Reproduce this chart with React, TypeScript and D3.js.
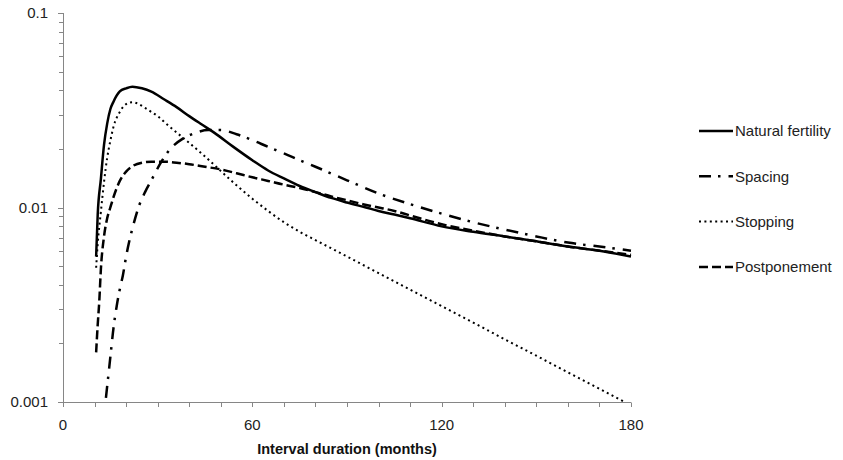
import { useEffect, useRef } from 'react'
import * as d3 from 'd3'

// months (x) and hazard values (y, log scale)
const naturalMonths = [10.5, 11, 12, 13, 14, 15, 16, 18, 20, 22, 25, 28, 32, 36, 40, 44, 48, 54, 60, 65, 70, 75, 80, 85, 90, 96, 100, 105, 110, 120, 130, 140, 150, 160, 170, 180]
const naturalValues = [0.0056, 0.0092, 0.014, 0.021, 0.027, 0.032, 0.035, 0.0395, 0.041, 0.0418, 0.041, 0.0394, 0.036, 0.0328, 0.0295, 0.0267, 0.0242, 0.0205, 0.0175, 0.0155, 0.0141, 0.0129, 0.012, 0.0112, 0.0106, 0.0100, 0.0096, 0.0092, 0.0088, 0.0080, 0.0075, 0.0071, 0.0067, 0.0063, 0.0060, 0.0056]

const spacingMonths = [13.6, 15, 16, 17, 18, 19, 20, 21, 22, 24, 26, 28, 31, 34, 38, 42, 46, 50, 55, 60, 65, 70, 75, 80, 90, 100, 110, 120, 130, 140, 150, 160, 170, 180]
const spacingValues = [0.00105, 0.0017, 0.0024, 0.0031, 0.0038, 0.0045, 0.0056, 0.0067, 0.0078, 0.0101, 0.012, 0.0138, 0.017, 0.02, 0.0226, 0.0242, 0.025, 0.025, 0.0238, 0.0222, 0.0205, 0.019, 0.0175, 0.0162, 0.0138, 0.0118, 0.0104, 0.0093, 0.0084, 0.0077, 0.0071, 0.0066, 0.0063, 0.006]

const stoppingMonths = [10.5, 11, 12, 13, 14, 15, 16, 18, 20, 22, 24, 26, 28, 30, 33, 36, 40, 45, 50, 55, 60, 65, 70, 75, 80, 90, 100, 110, 120, 130, 140, 150, 160, 170, 178]
const stoppingValues = [0.0049, 0.0065, 0.0095, 0.0135, 0.018, 0.022, 0.026, 0.031, 0.034, 0.0348, 0.034, 0.0325, 0.031, 0.0295, 0.0267, 0.0243, 0.0215, 0.0183, 0.0154, 0.013, 0.0111, 0.0096, 0.0084, 0.0075, 0.0068, 0.0056, 0.0046, 0.00378, 0.00311, 0.00256, 0.0021, 0.00173, 0.00142, 0.00117, 0.001]

const postponementMonths = [10.5, 11, 11.5, 12, 13, 14, 15, 16, 18, 20, 22, 25, 28, 32, 36, 40, 45, 50, 55, 60, 65, 70, 75, 80, 85, 90, 95, 100, 105, 110, 120, 130, 140, 150, 160, 170, 180]
const postponementValues = [0.0018, 0.0025, 0.0033, 0.0048, 0.0071, 0.0088, 0.01, 0.0113, 0.0137, 0.0153, 0.0163, 0.017, 0.0172, 0.0172, 0.017, 0.0167, 0.0162, 0.0157, 0.015, 0.0143, 0.0137, 0.0131, 0.0126, 0.012, 0.0114, 0.0109, 0.0104, 0.01, 0.0096, 0.0091, 0.0082, 0.0076, 0.0071, 0.0067, 0.0063, 0.006, 0.0057]

const seriesNames = ['Natural fertility', 'Spacing', 'Stopping', 'Postponement']
const xTicks = [0, 60, 120, 180]
const yTicks = [0.001, 0.01, 0.1]

const FONT = '"Liberation Sans", Arial, sans-serif'

const App = () => {
  const svgRef = useRef(null)

  useEffect(() => {
    const svg = d3.select(svgRef.current)
    svg.selectAll('*').remove()

    const x = d3.scaleLinear().domain([0, 180]).range([63, 631])
    const y = d3.scaleLog().domain([0.001, 0.1]).range([402, 13])

    const axisColor = '#868686'

    // y axis
    const yAxis = svg.append('g')
    yAxis.append('line')
      .attr('x1', 63.5).attr('x2', 63.5)
      .attr('y1', y(0.1)).attr('y2', y(0.001))
      .attr('stroke', axisColor)
    const minor = []
    ;[0.001, 0.01].forEach((dec) => {
      for (let k = 2; k <= 9; k++) minor.push(dec * k)
    })
    yAxis.selectAll('.minor')
      .data(minor)
      .enter()
      .append('line')
      .attr('x1', 59).attr('x2', 63.5)
      .attr('y1', (d) => Math.round(y(d)) + 0.5)
      .attr('y2', (d) => Math.round(y(d)) + 0.5)
      .attr('stroke', axisColor)
    yAxis.selectAll('.major')
      .data(yTicks)
      .enter()
      .append('line')
      .attr('x1', 58).attr('x2', 63.5)
      .attr('y1', (d) => Math.round(y(d)) + 0.5)
      .attr('y2', (d) => Math.round(y(d)) + 0.5)
      .attr('stroke', axisColor)
    yAxis.selectAll('text')
      .data(yTicks)
      .enter()
      .append('text')
      .attr('x', 48)
      .attr('y', (d) => y(d))
      .attr('dy', '0.35em')
      .attr('text-anchor', 'end')
      .style('font-family', FONT)
      .style('font-size', '15px')
      .attr('fill', '#222')
      .text((d) => String(d))

    // x axis
    const xAxis = svg.append('g')
    xAxis.append('line')
      .attr('x1', 63).attr('x2', 631)
      .attr('y1', 402.5).attr('y2', 402.5)
      .attr('stroke', axisColor)
    xAxis.selectAll('.tick')
      .data(d3.range(0, 181, 10))
      .enter()
      .append('line')
      .attr('x1', (d) => Math.round(x(d)) + 0.5)
      .attr('x2', (d) => Math.round(x(d)) + 0.5)
      .attr('y1', 402.5).attr('y2', 407)
      .attr('stroke', axisColor)
    xAxis.selectAll('text')
      .data(xTicks)
      .enter()
      .append('text')
      .attr('x', (d) => x(d))
      .attr('y', 425)
      .attr('dy', '0.35em')
      .attr('text-anchor', 'middle')
      .style('font-family', FONT)
      .style('font-size', '15px')
      .attr('fill', '#222')
      .text((d) => String(d))

    svg.append('text')
      .attr('x', (x(0) + x(180)) / 2)
      .attr('y', 449)
      .attr('dy', '0.35em')
      .attr('text-anchor', 'middle')
      .style('font-family', FONT)
      .style('font-size', '14.5px')
      .style('font-weight', 'bold')
      .attr('fill', '#111')
      .text('Interval duration (months)')

    const series = [
      { months: naturalMonths, values: naturalValues, width: 2.5, dash: null },
      { months: spacingMonths, values: spacingValues, width: 2.5, dash: '12 7 2.5 8' },
      { months: stoppingMonths, values: stoppingValues, width: 2, dash: '2 3.4' },
      { months: postponementMonths, values: postponementValues, width: 2.5, dash: '9 4' },
    ]

    const line = d3.line()
      .x((d) => x(d[0]))
      .y((d) => y(d[1]))
      .curve(d3.curveMonotoneX)

    series.forEach((s) => {
      const pts = s.months.map((m, i) => [m, s.values[i]])
      svg.append('path')
        .attr('d', line(pts))
        .attr('fill', 'none')
        .attr('stroke', '#000')
        .attr('stroke-width', s.width)
        .attr('stroke-dasharray', s.dash)
    })

    // legend
    const legend = svg.append('g')
    seriesNames.forEach((name, i) => {
      const ly = 131 + i * 45.3
      legend.append('line')
        .attr('x1', 699).attr('x2', 733)
        .attr('y1', ly).attr('y2', ly)
        .attr('stroke', '#000')
        .attr('stroke-width', series[i].width)
        .attr('stroke-dasharray', series[i].dash)
      legend.append('text')
        .attr('x', 735)
        .attr('y', ly)
        .attr('dy', '0.35em')
        .style('font-family', FONT)
        .style('font-size', '15px')
        .attr('fill', '#222')
        .text(name)
    })
  }, [])

  return (
    <div>
      <svg
        ref={svgRef}
        width={843}
        height={460}
        style={{ position: 'absolute', left: 0, top: 0, background: '#fff' }}
      ></svg>
    </div>
  )
}

export default App
